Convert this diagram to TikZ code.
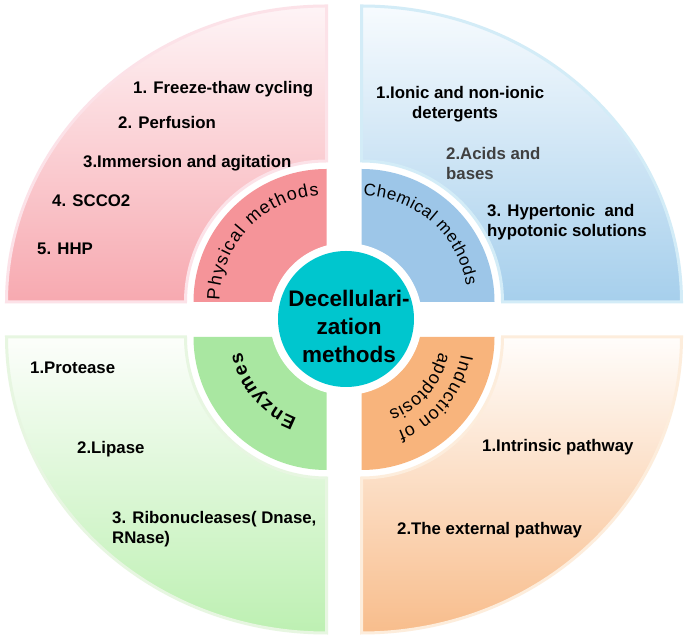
\documentclass[tikz,border=0pt]{standalone}
\usepackage{fontspec}
\setmainfont{Liberation Sans}
\usetikzlibrary{decorations.text}
\definecolor{physTop}{HTML}{FEF4F6}
\definecolor{physBot}{HTML}{F7A9B0}
\definecolor{physIn}{HTML}{F59499}
\definecolor{physLine}{HTML}{FCE2E8}
\definecolor{chemTop}{HTML}{F7FBFE}
\definecolor{chemBot}{HTML}{A6CFEC}
\definecolor{chemIn}{HTML}{9DC6E8}
\definecolor{chemLine}{HTML}{D3ECF7}
\definecolor{enzTop}{HTML}{FCFEFB}
\definecolor{enzBot}{HTML}{BDF0B2}
\definecolor{enzIn}{HTML}{A9E7A1}
\definecolor{enzLine}{HTML}{E7F6E1}
\definecolor{indTop}{HTML}{FFFDFB}
\definecolor{indBot}{HTML}{F8BD8C}
\definecolor{indIn}{HTML}{F8B47C}
\definecolor{indLine}{HTML}{FDEDDC}
\definecolor{hubCol}{HTML}{00C6CE}
\definecolor{grayText}{HTML}{404040}
\newcommand\itemfont{\bfseries\fontsize{16.8}{20.5}\selectfont}
\newcommand\lblfont{\fontsize{18}{20}\selectfont}
\newcommand\chemfont{\fontsize{17}{19}\selectfont}
\newcommand\enzfont{\bfseries\fontsize{19}{20}\selectfont}
\tikzset{
  outerband/.style={line width=3pt},
  itemtext/.style={anchor=north west, inner sep=0pt, align=left, font=\itemfont, text=black},
}
\begin{document}
\begin{tikzpicture}[x=1pt,y=1pt]
\useasboundingbox (0,0) rectangle (688,639);
\fill[white] (0,0) rectangle (688,639);

\coordinate (C) at (346,320);
\coordinate (PC) at (326.5,337);
\coordinate (CC) at (361.5,337);
\coordinate (EC) at (326.5,302);
\coordinate (IC) at (361.5,302);

% outer bands
\shadedraw[outerband, draw=physLine, top color=physTop, bottom color=physBot]
  (326.5,478) -- (326.5,633) arc[start angle=90,end angle=180,x radius=320,y radius=296]
  -- (185.5,337) arc[start angle=180,end angle=90,radius=141] -- cycle;
\shadedraw[outerband, draw=chemLine, top color=chemTop, bottom color=chemBot]
  (361.5,478) -- (361.5,633) arc[start angle=90,end angle=0,x radius=320,y radius=296]
  -- (502.5,337) arc[start angle=0,end angle=90,radius=141] -- cycle;
\shadedraw[outerband, draw=enzLine, top color=enzTop, bottom color=enzBot]
  (326.5,161) -- (326.5,6) arc[start angle=270,end angle=180,x radius=320,y radius=296]
  -- (185.5,302) arc[start angle=180,end angle=270,radius=141] -- cycle;
\shadedraw[outerband, draw=indLine, top color=indTop, bottom color=indBot]
  (361.5,161) -- (361.5,6) arc[start angle=-90,end angle=0,x radius=320,y radius=296]
  -- (502.5,302) arc[start angle=0,end angle=-90,radius=141] -- cycle;

% inner sectors
\fill[physIn] (PC) -- (326.5,470) arc[start angle=90,end angle=180,radius=133] -- cycle;
\fill[chemIn] (CC) -- (361.5,470) arc[start angle=90,end angle=0,radius=133] -- cycle;
\fill[enzIn] (EC) -- (326.5,169) arc[start angle=270,end angle=180,radius=133] -- cycle;
\fill[indIn] (IC) -- (361.5,169) arc[start angle=-90,end angle=0,radius=133] -- cycle;

% hub
\fill[white] (C) circle[radius=76];
\node[circle, fill=hubCol, minimum size=136pt, inner sep=0pt] (hub) at (C) {};
\node[align=center, inner sep=0pt, font=\bfseries\fontsize{22.5}{28}\selectfont] (title) at (349,312.5)
  {Decellulari-\\zation\\methods};

% curved labels
\path[decorate, decoration={text along path, text align={fit to path},
   text={|\lblfont|Physical methods}}]
  ([shift={(179:107)}]PC) arc[start angle=179, end angle=94, radius=107];
\path[decorate, decoration={text along path, text align={fit to path},
   text={|\chemfont|Chemical methods}}]
  ([shift={(89:106)}]CC) arc[start angle=89, end angle=9, radius=106];
\path[decorate, decoration={text along path, text align={fit to path},
   text={|\enzfont|Enzymes}}]
  ([shift={(250:86)}]EC) arc[start angle=250, end angle=190, radius=86];
\path[decorate, decoration={text along path, text align={fit to path},
   text={|\lblfont|Induction of}}]
  ([shift={(-10:101)}]IC) arc[start angle=-10, end angle=-69, radius=101];
\path[decorate, decoration={text along path, text align={fit to path},
   text={|\lblfont|apoptosis}}]
  ([shift={(-11:79)}]IC) arc[start angle=-11, end angle=-70, radius=79];

% physical items
\node[itemtext] (p1) at (133,558) {1. Freeze-thaw cycling};
\node[itemtext] (p2) at (118,523) {2. Perfusion};
\node[itemtext] (p3) at (83,484) {3.Immersion and agitation};
\node[itemtext] (p4) at (52,444) {4. SCCO2};
\node[itemtext] (p5) at (37,396) {5. HHP};

% chemical items
\node[itemtext] (c1) at (376,553) {1.Ionic and non-ionic\\\hspace*{36pt}detergents};
\node[itemtext, text=grayText] (c2) at (446,492) {2.Acids and\\bases};
\node[itemtext] (c3) at (487,435) {3. Hypertonic\ \ and\\hypotonic solutions};

% enzyme items
\node[itemtext] (e1) at (30,277) {1.Protease};
\node[itemtext] (e2) at (77,198) {2.Lipase};
\node[itemtext] (e3) at (112,128) {3. Ribonucleases( Dnase,\\RNase)};

% induction items
\node[itemtext] (i1) at (482,200) {1.Intrinsic pathway};
\node[itemtext] (i2) at (397,117) {2.The external pathway};
\end{tikzpicture}
\end{document}
